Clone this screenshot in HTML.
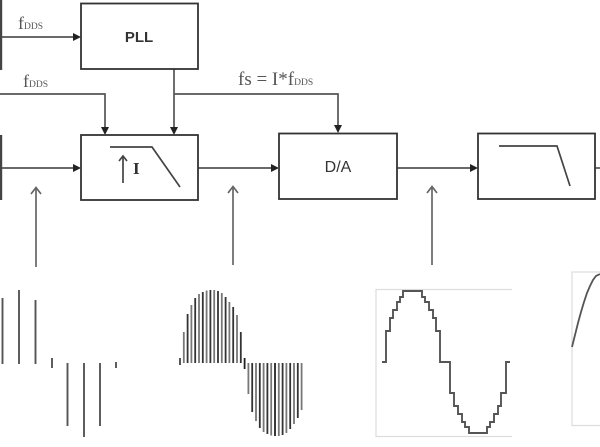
<!DOCTYPE html>
<html>
<head>
<meta charset="utf-8">
<style>
html,body{margin:0;padding:0;background:#fff;}
svg{display:block;}
</style>
</head>
<body>
<svg width="600" height="447" viewBox="0 0 600 447" xmlns="http://www.w3.org/2000/svg">
<rect x="0" y="0" width="600" height="447" fill="#fff"/>
<!-- left edge bars -->
<rect x="0" y="0" width="2.2" height="70" fill="#444"/>
<rect x="0" y="135" width="2.2" height="65" fill="#444"/>

<g fill="none" stroke="#555" stroke-width="1.7">
  <line x1="2" y1="37" x2="75" y2="37"/>
  <polyline points="0,94 105,94 105,128"/>
  <line x1="174" y1="69" x2="174" y2="128"/>
  <polyline points="174,94 338,94 338,126"/>
  <line x1="2" y1="168" x2="75" y2="168"/>
  <line x1="198" y1="168" x2="273" y2="168"/>
  <line x1="397" y1="168" x2="472" y2="168"/>
  <line x1="595" y1="168" x2="600" y2="168"/>
</g>
<g fill="#222">
  <polygon points="81,37 73,33 73,41"/>
  <polygon points="105,135 101,127 109,127"/>
  <polygon points="174,135 170,127 178,127"/>
  <polygon points="338,133 334,125 342,125"/>
  <polygon points="81,168 73,164 73,172"/>
  <polygon points="279,168 271,164 271,172"/>
  <polygon points="478,168 470,164 470,172"/>
</g>

<!-- boxes -->
<g fill="none" stroke="#333" stroke-width="1.8">
  <rect x="81" y="3.5" width="117" height="65.5"/>
  <rect x="81" y="135" width="117" height="65"/>
  <rect x="279" y="133.5" width="118" height="65.5"/>
  <rect x="478" y="133.5" width="117" height="65.5"/>
</g>

<g fill="none" stroke="#444" stroke-width="1.7">
  <polyline points="110,147 152,147 180,187"/>
  <line x1="123" y1="183" x2="123" y2="156"/>
  <polyline points="119,161 123,156 127,161"/>
  <polyline points="499,146 557,146 570,186"/>
</g>

<!-- texts -->
<text x="18" y="29" font-family="Liberation Serif, serif" font-size="18" fill="#555">f<tspan font-size="9.5">DDS</tspan></text>
<text x="23" y="87" font-family="Liberation Serif, serif" font-size="18" fill="#555">f<tspan font-size="9.5">DDS</tspan></text>
<text x="238" y="85" font-family="Liberation Serif, serif" font-size="19" fill="#555">fs = I*f<tspan font-size="9.5">DDS</tspan></text>
<text x="139" y="42" text-anchor="middle" font-family="Liberation Sans, sans-serif" font-size="15" font-weight="bold" fill="#333">PLL</text>
<text x="338" y="172" text-anchor="middle" font-family="Liberation Sans, sans-serif" font-size="16" fill="#333">D/A</text>
<text x="133" y="174" font-family="Liberation Serif, serif" font-size="17" font-weight="bold" fill="#333">I</text>

<!-- up arrows (open) -->
<g fill="none" stroke="#666" stroke-width="1.7">
  <line x1="36" y1="267" x2="36" y2="188"/>
  <polyline points="31,194 36,187.5 41,194"/>
  <line x1="233" y1="265" x2="233" y2="187"/>
  <polyline points="228,193 233,186.5 238,193"/>
  <line x1="432" y1="265" x2="432" y2="187"/>
  <polyline points="427,193 432,186.5 437,193"/>
</g>

<!-- waveform 1: impulses -->
<g stroke="#555" stroke-width="1.9">
  <line x1="2.5" y1="298" x2="2.5" y2="364"/>
  <line x1="19" y1="290" x2="19" y2="364"/>
  <line x1="35.5" y1="300" x2="35.5" y2="364"/>
  <line x1="52" y1="358" x2="52" y2="368"/>
  <line x1="67.5" y1="363" x2="67.5" y2="426"/>
  <line x1="84" y1="363" x2="84" y2="437"/>
  <line x1="100" y1="363" x2="100" y2="426"/>
  <line x1="116" y1="362" x2="116" y2="368"/>
</g>

<!-- frames -->
<g fill="none" stroke="#ddd" stroke-width="1.2">
  <polyline points="512,289.5 376,289.5 376,436.5 512,436.5"/>
  <polyline points="600,272 572,272 572,425.5 600,425.5"/>
</g>
<!-- waveform 3: staircase -->
<path fill="none" stroke="#555" stroke-width="1.9" d="M382,362 H386 V331 H390 V318 H393 V310 H397 V302 H400 V297 H403 V291 H422 V297 H425 V302 H429 V310 H433 V318 H436 V331 H440 V362 H450 V393 H454 V406 H458 V414 H462 V422 H465 V427 H469 V433 H487 V427 H490 V422 H494 V414 H498 V406 H501 V393 H506 V362 H510"/>

<!-- waveform 4 -->
<polyline fill="none" stroke="#555" stroke-width="1.8" points="572,347 575,335 578,323 581,312 584,302 587,293 590,286 593,280 596,276 600,274"/>

<!-- waveform 2: dense bars -->
<g stroke-width="1.8">
<line x1="180" y1="358" x2="180" y2="365" stroke="#444"/>
<line x1="183.8" y1="332" x2="183.8" y2="363" stroke="#777"/>
<line x1="187.6" y1="314" x2="187.6" y2="363" stroke="#333"/>
<line x1="191.4" y1="305" x2="191.4" y2="363" stroke="#777"/>
<line x1="195.2" y1="298" x2="195.2" y2="363" stroke="#333"/>
<line x1="199" y1="294" x2="199" y2="363" stroke="#777"/>
<line x1="202.8" y1="292" x2="202.8" y2="363" stroke="#333"/>
<line x1="206.6" y1="290.5" x2="206.6" y2="363" stroke="#777"/>
<line x1="210.4" y1="290" x2="210.4" y2="363" stroke="#333"/>
<line x1="214.2" y1="290" x2="214.2" y2="363" stroke="#777"/>
<line x1="218" y1="291" x2="218" y2="363" stroke="#333"/>
<line x1="221.8" y1="293" x2="221.8" y2="363" stroke="#777"/>
<line x1="225.6" y1="297" x2="225.6" y2="363" stroke="#333"/>
<line x1="229.4" y1="302" x2="229.4" y2="363" stroke="#777"/>
<line x1="233.2" y1="307" x2="233.2" y2="363" stroke="#333"/>
<line x1="237" y1="315" x2="237" y2="363" stroke="#777"/>
<line x1="240.8" y1="332" x2="240.8" y2="363" stroke="#333"/>
<line x1="244.6" y1="358" x2="244.6" y2="369" stroke="#222"/>
<line x1="248.4" y1="363" x2="248.4" y2="394" stroke="#777"/>
<line x1="252.2" y1="363" x2="252.2" y2="412" stroke="#333"/>
<line x1="256" y1="363" x2="256" y2="421" stroke="#777"/>
<line x1="259.8" y1="363" x2="259.8" y2="428" stroke="#333"/>
<line x1="263.6" y1="363" x2="263.6" y2="432" stroke="#777"/>
<line x1="267.4" y1="363" x2="267.4" y2="434" stroke="#333"/>
<line x1="271.2" y1="363" x2="271.2" y2="435.5" stroke="#777"/>
<line x1="275" y1="363" x2="275" y2="436" stroke="#222"/>
<line x1="278.8" y1="363" x2="278.8" y2="436" stroke="#777"/>
<line x1="282.6" y1="363" x2="282.6" y2="435" stroke="#333"/>
<line x1="286.4" y1="363" x2="286.4" y2="433" stroke="#777"/>
<line x1="290.2" y1="363" x2="290.2" y2="429" stroke="#333"/>
<line x1="294" y1="363" x2="294" y2="424" stroke="#777"/>
<line x1="297.8" y1="363" x2="297.8" y2="418" stroke="#333"/>
<line x1="301.6" y1="363" x2="301.6" y2="410" stroke="#777"/>
</g>
</svg>
</body>
</html>
